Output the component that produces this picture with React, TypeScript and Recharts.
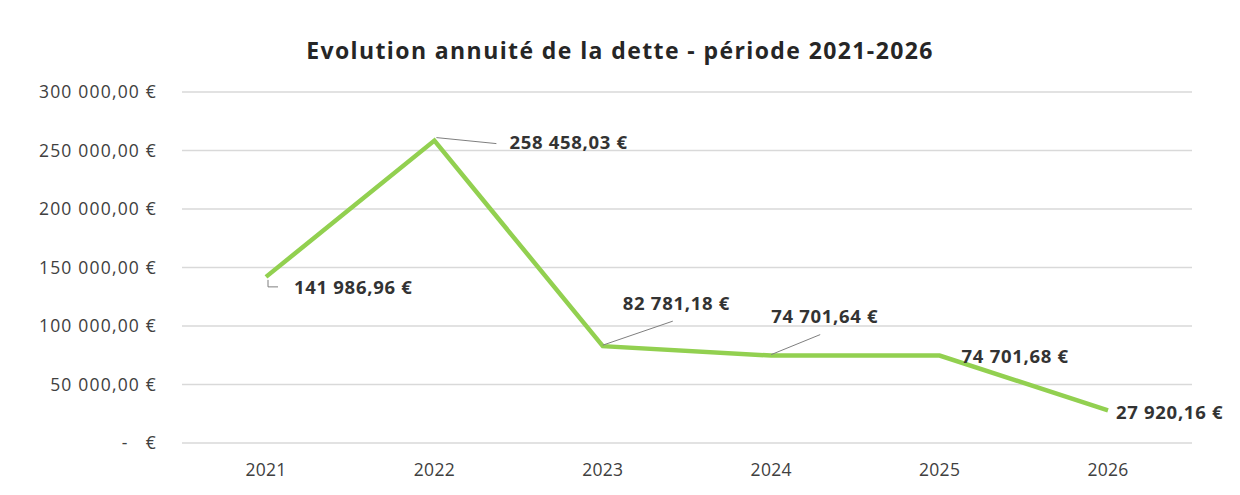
import React from "react"
import { CartesianGrid, Line, LineChart, XAxis, YAxis } from "recharts"

const years = ["2021", "2022", "2023", "2024", "2025", "2026"]
const annuites = [141986.96, 258458.03, 82781.18, 74701.64, 74701.68, 27920.16]
const yTicks = [0, 50000, 100000, 150000, 200000, 250000, 300000]

// label placement relative to the point (text start, vertical middle)
const labelOffsets = [
  { dx: 28, dy: 11 },
  { dx: 75, dy: 2 },
  { dx: 20, dy: -43 },
  { dx: 0, dy: -39 },
  { dx: 22, dy: 1 },
  { dx: 8, dy: 2 },
]
// leader lines drawn by Excel, relative to the point
const leaders: ([number, number][] | null)[] = [
  [[2, 3], [2, 10], [12, 10]],
  [[2, -3], [62, 3]],
  [[0, -1], [70, -25]],
  [[0, -1], [49, -21]],
  null,
  null,
]

const data = years.map((year, i) => ({ year, value: annuites[i] }))

const formatEuro = (v: number) => {
  if (v === 0) return "-\u00a0\u00a0\u00a0€"
  const [int, dec] = v.toFixed(2).split(".")
  const grouped = int.replace(/\B(?=(\d{3})+(?!\d))/g, "\u00a0")
  return `${grouped},${dec}\u00a0€`
}

const FONT = "'Open Sans', sans-serif"

const DataLabel = (props: any) => {
  const { x, y, index, value } = props
  if (x == null || y == null) return null
  const off = labelOffsets[index]
  const leader = leaders[index]
  return (
    <g>
      {leader && (
        <polyline
          points={leader.map(([px, py]) => `${x + px},${y + py}`).join(" ")}
          fill="none"
          stroke="#7f7f7f"
          strokeWidth={1}
        />
      )}
      <text
        x={x + off.dx}
        y={y + off.dy}
        dy="0.35em"
        textAnchor="start"
        fontFamily={FONT}
        fontSize={18.5}
        fontWeight={700}
        letterSpacing={0.7}
        fill="#333333"
      >
        {formatEuro(value)}
      </text>
    </g>
  )
}

export default function App() {
  return (
    <div style={{ position: "absolute", left: 0, top: 0, width: 1240, height: 495, background: "#fff" }}>
      <div
        style={{
          position: "absolute",
          top: 34,
          left: 0,
          width: 1240,
          textAlign: "center",
          fontFamily: FONT,
          fontWeight: 700,
          fontSize: 23,
          letterSpacing: 1.4,
          color: "#262626",
        }}
      >
        Evolution annuité de la dette - période 2021-2026
      </div>
      <LineChart width={1240} height={495} data={data} margin={{ top: 92, right: 48, bottom: 22, left: 0 }}>
        <CartesianGrid vertical={false} stroke="#d9d9d9" strokeWidth={1.5} />
        <XAxis
          dataKey="year"
          axisLine={false}
          tickLine={false}
          tickSize={0}
          tickMargin={21}
          height={30}
          padding={{ left: 84, right: 84 }}
          tick={{ fontFamily: FONT, fontSize: 17.5, fill: "#404040", letterSpacing: 0.3 } as any}
        />
        <YAxis
          domain={[0, 300000]}
          ticks={yTicks}
          width={182}
          axisLine={false}
          tickLine={false}
          tickSize={0}
          tickMargin={25}
          tickFormatter={formatEuro}
          tick={{ fontFamily: FONT, fontSize: 17.5, fill: "#404040", letterSpacing: 1.2 } as any}
        />
        <Line
          type="linear"
          dataKey="value"
          stroke="#92D050"
          strokeWidth={4.5}
          dot={false}
          isAnimationActive={false}
          label={(p: any) => <DataLabel {...p} />}
        />
      </LineChart>
    </div>
  )
}
